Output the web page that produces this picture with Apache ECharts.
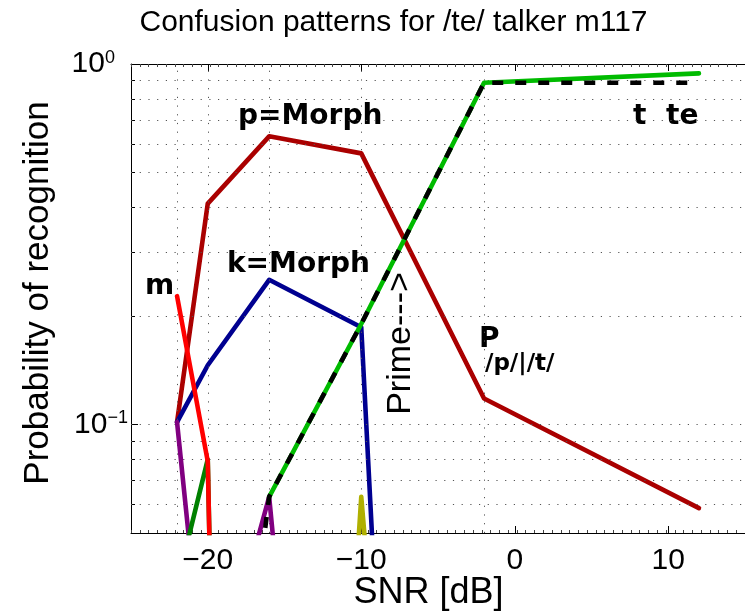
<!DOCTYPE html>
<html><head><meta charset="utf-8">
<script src="https://cdn.jsdelivr.net/npm/echarts@6/dist/echarts.min.js"></script>
<style>html,body{margin:0;padding:0;background:#fff}#c{width:745px;height:614px}</style>
</head><body><div id="c"></div>
<script>
// ---- data ----
const snr      = [-22, -20, -16, -10, -2, 12];
const pMorph   = [0.1015, 0.41, 0.63, 0.565, 0.118, 0.0586];   // dark red  (p=Morph / P_/p/|/t/)
const kMorph   = [0.1015, 0.146, 0.252, 0.186, 5e-8, null];    // blue      (k=Morph)
const purpleR  = [0.1015, 0.015, 0.063, 1.4e-4, null, null];   // purple
const tDark    = [0.036, 0.08, 1e-9, null, null, null];         // dark green
const mResp    = [0.227, 0.079, 1e-9, null, null, null];        // red (m)
const oliveR   = [null, null, 6e-6, 0.063, 6e-6, null];         // olive
const teResp   = [null, null, 0.063, 0.19, 0.887, 0.942];       // bright green (te)
const tResp    = [null, 0.0028, 0.063, 0.19, 0.887, 0.887];     // black dashed (t)
const xTickLabels = [-20, -10, 0, 10];
const yMinorTicks = [0.06, 0.07, 0.08, 0.09, 0.2, 0.3, 0.4, 0.5, 0.6, 0.7, 0.8, 0.9];
const yGridVals   = [0.06, 0.07, 0.08, 0.09, 0.1, 0.2, 0.3, 0.4, 0.5, 0.6, 0.7, 0.8, 0.9];
const xGridVals   = [-22, -20, -16, -10, -2];

const pts = arr => snr.map((x, i) => [x, arr[i]]).filter(p => p[1] != null);
const FONT = '"Liberation Sans", Arial, Helvetica, sans-serif';
const BFONT = '"DejaVu Sans", sans-serif';
const LW = 4.6;

function lineSeries(name, arr, color, z, extra) {
  return Object.assign({
    name, type: 'line', data: pts(arr), z, showSymbol: false, symbol: 'none',
    clip: true, silent: true, animation: false,
    lineStyle: { color, width: LW, cap: 'round', join: 'round' }
  }, extra || {});
}

const dotted = { color: '#555', width: 1, type: [1.2, 7.5] };
const gridMarks = yGridVals.map(v => ({ yAxis: v })).concat(xGridVals.map(v => ({ xAxis: v })));

const chart = echarts.init(document.getElementById('c'), null, { renderer: 'canvas' });
const option = {
  animation: false,
  backgroundColor: '#fff',
  grid: { left: 131, top: 64, width: 615, height: 469, containLabel: false },
  xAxis: [
    { type: 'value', min: -25, max: 15, position: 'bottom',
      axisLine: { show: true, onZero: false, lineStyle: { color: '#000', width: 1 } },
      axisTick: { show: true, inside: true, length: 7, customValues: xTickLabels, lineStyle: { color: '#000' } },
      axisLabel: { customValues: xTickLabels, margin: 13, fontSize: 30, fontFamily: FONT, color: '#000',
        formatter: v => (v < 0 ? '\u2212' + Math.abs(v) : String(v)) },
      splitLine: { show: false } },
    { type: 'value', min: -25, max: 15, position: 'top',
      axisLine: { show: true, onZero: false, lineStyle: { color: '#000', width: 1 } },
      axisTick: { show: true, inside: true, length: 7, customValues: xTickLabels, lineStyle: { color: '#000' } },
      axisLabel: { show: false }, splitLine: { show: false } },
    { type: 'value', min: -25, max: 15, interval: 0.5714, position: 'bottom',
      axisLine: { show: false, onZero: false },
      axisTick: { show: true, inside: true, length: 3, lineStyle: { color: '#444' } },
      axisLabel: { show: false }, splitLine: { show: false } },
    { type: 'value', min: -25, max: 15, interval: 0.5714, position: 'top',
      axisLine: { show: false, onZero: false },
      axisTick: { show: true, inside: true, length: 3, lineStyle: { color: '#444' } },
      axisLabel: { show: false }, splitLine: { show: false } }
  ],
  yAxis: [
    { type: 'log', logBase: 10, min: 0.05, max: 1, position: 'left',
      axisLine: { show: true, onZero: false, lineStyle: { color: '#000', width: 1 } },
      axisTick: { show: true, inside: true, length: 7, lineStyle: { color: '#000' } },
      axisLabel: { margin: 3, color: '#000',
        formatter: v => {
          const e = Math.log10(v);
          const r = Math.round(e);
          if (Math.abs(e - r) > 1e-6) return '';
          const s = r < 0 ? '\u2212' + Math.abs(r) : String(r);
          return '{b|10}{s|' + s + '}' + (r === 0 ? '{p|}' : '');
        },
        rich: {
          b: { fontSize: 30, fontFamily: FONT, color: '#000', verticalAlign: 'bottom', lineHeight: 30 },
          s: { fontSize: 18, fontFamily: FONT, color: '#000', verticalAlign: 'top', lineHeight: 18, padding: [0, 0, 22, 0] },
          p: { width: 13 }
        } },
      splitLine: { show: false } },
    { type: 'value', min: Math.log10(0.05), max: 0, position: 'left',
      axisLine: { show: false, onZero: false },
      axisTick: { show: true, inside: true, length: 4, customValues: yMinorTicks.map(v => Math.log10(v)), lineStyle: { color: '#000' } },
      axisLabel: { show: false }, splitLine: { show: false } }
  ],
  series: [
    { type: 'line', data: [], z: 1, silent: true, symbol: 'none',
      markLine: { silent: true, symbol: 'none', animation: false, label: { show: false },
        lineStyle: dotted, emphasis: { disabled: true }, data: gridMarks } },
    lineSeries('p=Morph', pMorph, '#aa0000', 3),
    lineSeries('k=Morph', kMorph, '#000090', 4),
    lineSeries('purple', purpleR, '#800080', 5),
    lineSeries('t dark', tDark, '#008000', 6),
    lineSeries('m', mResp, '#ff0000', 7),
    lineSeries('olive', oliveR, '#b0b000', 8),
    lineSeries('te', teResp, '#00bb00', 9),
    lineSeries('t', tResp, '#000000', 10, { lineStyle: { color: '#000', width: LW, type: [11, 12], cap: 'butt', join: 'round' } })
  ],
  graphic: [
    { type: 'text', x: 393.5, y: 23, silent: true,
      style: { text: 'Confusion patterns for /te/ talker m117', fontSize: 30, fontFamily: FONT, fill: '#000', align: 'center', verticalAlign: 'middle' } },
    { type: 'text', x: 38, y: 293, rotation: Math.PI / 2, silent: true,
      style: { text: 'Probability of recognition', fontSize: 35, fontFamily: FONT, fill: '#000', align: 'center', verticalAlign: 'middle' } },
    { type: 'text', x: 428.5, y: 593, silent: true,
      style: { text: 'SNR [dB]', fontSize: 36, fontFamily: FONT, fill: '#000', align: 'center', verticalAlign: 'middle' } },
    { type: 'text', x: 238, y: 117, silent: true,
      style: { text: 'p=Morph', fontSize: 28, fontWeight: 'bold', fontFamily: BFONT, fill: '#000', align: 'left', verticalAlign: 'middle' } },
    { type: 'text', x: 227, y: 265, silent: true,
      style: { text: 'k=Morph', fontSize: 28, fontWeight: 'bold', fontFamily: BFONT, fill: '#000', align: 'left', verticalAlign: 'middle' } },
    { type: 'text', x: 145, y: 287, silent: true,
      style: { text: 'm', fontSize: 28, fontWeight: 'bold', fontFamily: BFONT, fill: '#000', align: 'left', verticalAlign: 'middle' } },
    { type: 'text', x: 633, y: 117, silent: true,
      style: { text: 't', fontSize: 28, fontWeight: 'bold', fontFamily: BFONT, fill: '#000', align: 'left', verticalAlign: 'middle' } },
    { type: 'text', x: 666, y: 117, silent: true,
      style: { text: 'te', fontSize: 28, fontWeight: 'bold', fontFamily: BFONT, fill: '#000', align: 'left', verticalAlign: 'middle' } },
    { type: 'text', x: 479, y: 340, silent: true,
      style: { text: 'P', fontSize: 28, fontWeight: 'bold', fontFamily: BFONT, fill: '#000', align: 'left', verticalAlign: 'middle' } },
    { type: 'text', x: 485, y: 364, silent: true,
      style: { text: '/p/|/t/', fontSize: 23, fontWeight: 'bold', fontFamily: BFONT, fill: '#000', align: 'left', verticalAlign: 'middle' } },
    { type: 'text', x: 401, y: 343.5, rotation: Math.PI / 2, silent: true,
      style: { text: 'Prime--->', fontSize: 34, fontFamily: FONT, fill: '#000', align: 'center', verticalAlign: 'middle' } }
  ]
};
chart.setOption(option);
</script>
</body></html>
